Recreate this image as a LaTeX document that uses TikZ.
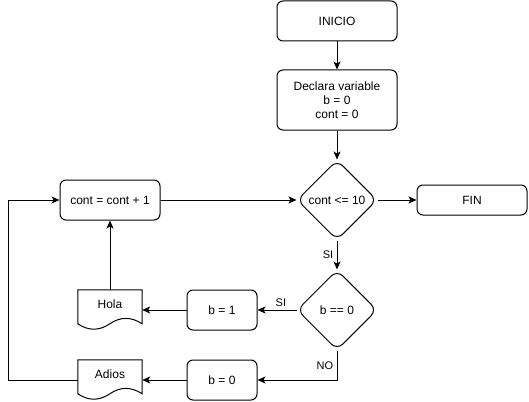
\documentclass[tikz,border=0pt]{standalone}
\usepackage{fontspec}
\setmainfont{Liberation Sans}
\usetikzlibrary{shapes.geometric,arrows.meta,calc}
\newcommand\docpath[1]{%
  \draw[line width=1pt] (#1.north west) -- (#1.north east) -- ($(#1.north east)+(0,34)$)
   .. controls ($(#1.north west)+(53.33,26.8)$) and ($(#1.north west)+(42.67,26.8)$) .. ($(#1.north west)+(32,34)$)
   .. controls ($(#1.north west)+(21.33,41.2)$) and ($(#1.north west)+(10.67,41.2)$) .. ($(#1.north west)+(0,34)$) -- cycle;}
\begin{document}
\begin{tikzpicture}[x=1pt,y=-1pt,
 every node/.style={font=\fontsize{12}{14}\selectfont},
 box/.style={draw,rounded corners=6pt,line width=1pt,inner sep=0pt,align=center},
 dec/.style={draw,diamond,aspect=1,minimum width=80pt,minimum height=80pt,inner sep=0pt,rounded corners=8pt,line width=1pt},
 doc/.style={inner sep=0pt,minimum width=64pt,minimum height=40pt},
 conn/.style={line width=1pt,-{Stealth[length=8pt,width=7pt,inset=2pt]}},
 lbl/.style={font=\fontsize{11}{13}\selectfont}]
\useasboundingbox (0,0) rectangle (529,401);
\node[box,minimum width=120pt,minimum height=40pt] (inicio) at (337,21) {INICIO};
\node[box,minimum width=120pt,minimum height=60pt] (decl) at (337,100) {Declara variable\\b = 0\\cont = 0};
\node[dec] (c1) at (337,200) {cont <= 10};
\node[box,minimum width=110pt,minimum height=30pt] (fin) at (472,200) {FIN};
\node[box,minimum width=100pt,minimum height=40pt] (inc) at (110,200) {cont = cont + 1};
\node[dec] (c2) at (337,310) {b == 0};
\node[box,minimum width=70pt,minimum height=40pt] (b1) at (222,310) {b = 1};
\node[box,minimum width=70pt,minimum height=40pt] (b0) at (222,380) {b = 0};
\node[doc,label={[yshift=6pt]center:Hola}] (hola) at (110,310) {};
\node[doc,label={[yshift=6pt]center:Adios}] (adios) at (110,380) {};
\docpath{hola}
\docpath{adios}
\coordinate (lft) at (8,380);
\draw[conn] (inicio) -- (decl);
\draw[conn] (decl) -- (c1);
\draw[conn] (inc) -- (c1);
\draw[conn] (c1) -- (fin);
\draw[conn] (c1) -- node[lbl,left]{SI} (c2);
\draw[conn] (c2) -- node[lbl,above,pos=0.4]{SI} (b1);
\draw[conn] (c2.south) |- node[lbl,pos=0.25,left]{NO} (b0.east);
\draw[conn] (b1) -- (hola);
\draw[conn] (b0) -- (adios);
\draw[conn] (hola) -- (inc);
\draw[conn] (adios.west) -- (lft) |- (inc.west);
\end{tikzpicture}
\end{document}
